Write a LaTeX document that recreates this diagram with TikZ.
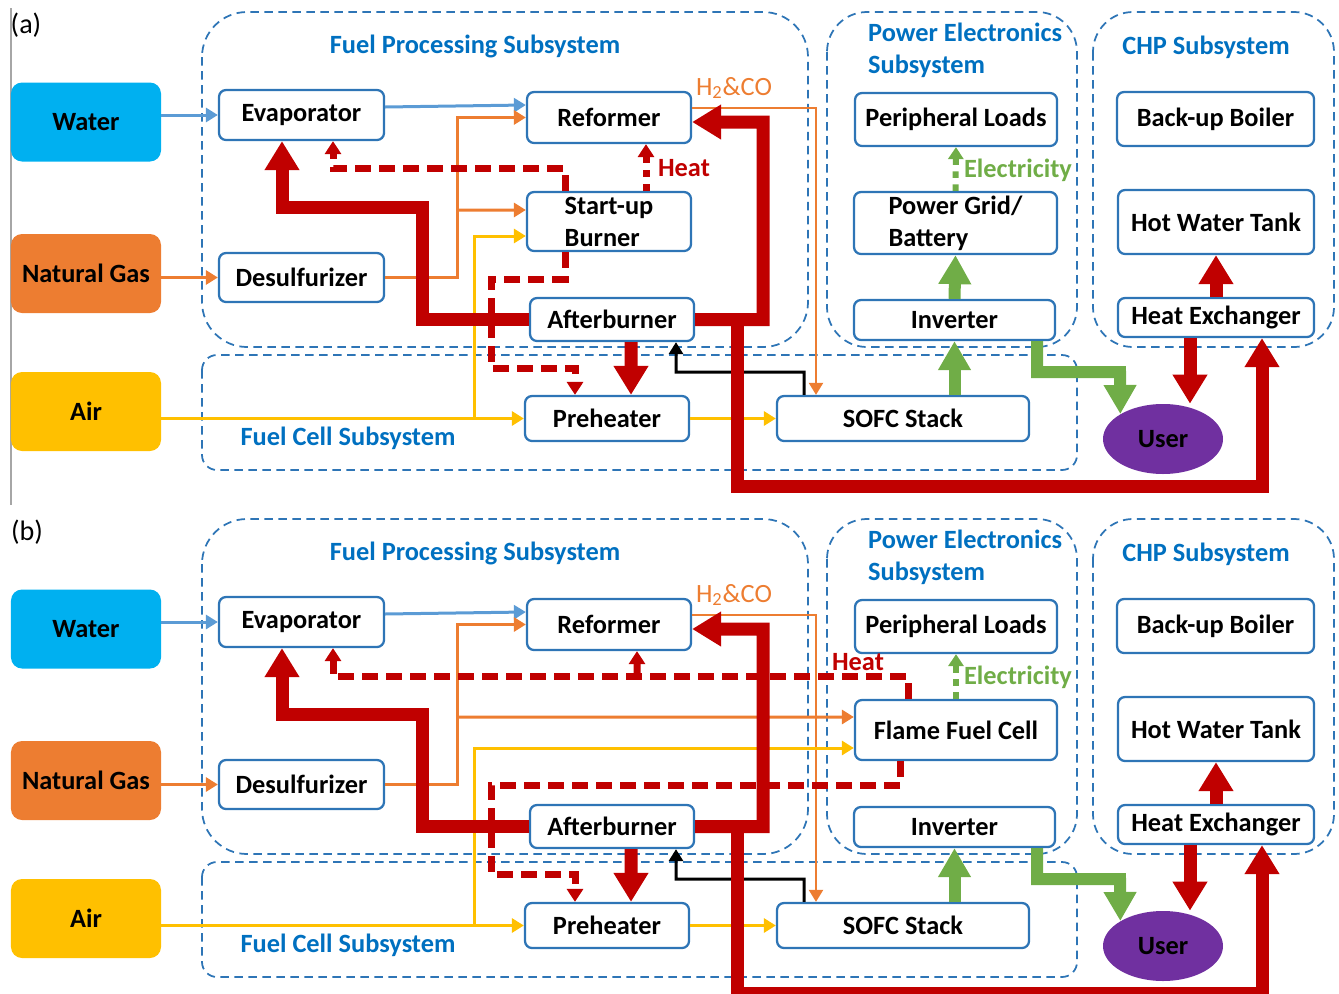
\documentclass[tikz,border=0pt]{standalone}
\usepackage{fontspec}
\setmainfont{Carlito}
\usetikzlibrary{arrows.meta,shapes.geometric}

\definecolor{boxblue}{RGB}{46,117,182}
\definecolor{titleblue}{RGB}{0,112,192}
\definecolor{waterblue}{RGB}{0,176,240}
\definecolor{lineblue}{RGB}{91,155,213}
\definecolor{gasorange}{RGB}{237,125,49}
\definecolor{airyellow}{RGB}{255,192,0}
\definecolor{heatred}{RGB}{192,0,0}
\definecolor{elgreen}{RGB}{112,173,71}
\definecolor{userpurple}{RGB}{112,48,160}

\tikzset{
  txt/.style={font=\fontsize{15}{18.2}\selectfont\bfseries},
  blk/.style={txt, draw=boxblue, line width=0.45mm, rounded corners=1.4mm,
    fill=white, inner sep=0pt, align=center},
  src/.style={txt, rounded corners=2.2mm, minimum width=30mm, minimum height=15.8mm},
  box/.style={draw=boxblue, line width=0.35mm, dash pattern=on 1.7mm off 1.1mm},
  title/.style={txt, text=titleblue},
  feed/.style={line width=0.6mm, -{Triangle[width=2.8mm,length=2.4mm]}},
  hot/.style={heatred, line width=2.6mm, -{Triangle[width=6.6mm,length=5.8mm]}},
  power/.style={elgreen, line width=2.4mm, -{Triangle[width=6.2mm,length=5.8mm]}},
  heatdash/.style={heatred, line width=1.4mm, dash pattern=on 3.2mm off 1.6mm,
    -{Triangle[width=3.2mm,length=2.6mm]}},
  heatdot/.style={heatred, line width=1.4mm, dash pattern=on 1.4mm off 1.4mm,
    -{Triangle[width=3.2mm,length=2.6mm]}},
  eldot/.style={elgreen, line width=1.2mm, dash pattern=on 1.3mm off 1.3mm,
    -{Triangle[width=3mm,length=2.4mm]}},
}

\begin{document}
\begin{tikzpicture}[x=0.2mm, y=-0.2mm] % one unit = one pixel, y downwards
    \useasboundingbox (0,0) rectangle (1339,994);

    % panel tags
    \draw [gray!70, line width=0.4mm] (11,8) -- (11,505);
    \node [font=\fontsize{16}{19}\selectfont] (taga) at (26,25) {(a)};
    \node [font=\fontsize{16}{19}\selectfont] (tagb) at (27,532) {(b)};

    % parts shared by both panels
    \foreach \p/\dy in {a/0,b/507}{
    \begin{scope}[shift={(0,\dy)}]
        % subsystems
        \draw [box, rounded corners=9mm] (202,12) rectangle (808,347);
        \draw [box, rounded corners=3mm] (202,355) rectangle (1077,470);
        \draw [box, rounded corners=8mm] (827,12) rectangle (1077,347);
        \draw [box, rounded corners=8mm] (1093,12) rectangle (1334,347);
        \node [title] (tfp\p) at (475,46) {Fuel Processing Subsystem};
        \node [title] (tfc\p) at (348,438) {Fuel Cell Subsystem};
        \node [title, align=left, anchor=west] (tpe\p) at (862,50) {Power Electronics\\Subsystem};
        \node [title] (tchp\p) at (1206,47) {CHP Subsystem};

        % inputs
        \node [src, fill=waterblue] (water\p) at (86,122) {Water};
        \node [src, fill=gasorange] (gas\p) at (86,273.5) {Natural Gas};
        \node [src, fill=airyellow] (air\p) at (86,411.5) {Air};

        % units
        \node [blk, minimum width=33mm, minimum height=10mm] (eva\p) at (301.5,115) {Evaporator};
        \node [blk, minimum width=32.8mm, minimum height=10.2mm] (ref\p) at (609,117.5) {Reformer};
        \node [blk, minimum width=33mm, minimum height=9.8mm] (des\p) at (301.5,277.5) {Desulfurizer};
        \node [blk, minimum width=32.8mm, minimum height=8.6mm] (aft\p) at (612,319.5) {Afterburner};
        \node [blk, minimum width=32.8mm, minimum height=9mm] (pre\p) at (607,418.5) {Preheater};
        \node [blk, minimum width=50.4mm, minimum height=9mm] (sofc\p) at (903,418.5) {SOFC Stack};
        \node [blk, minimum width=40.4mm, minimum height=10.6mm] (load\p) at (956,119.5) {Peripheral Loads};
        \node [blk, minimum width=40.2mm, minimum height=8mm] (inv\p) at (954.5,320) {Inverter};
        \node [blk, minimum width=39.4mm, minimum height=10.8mm] (boil\p) at (1215.5,119) {Back-up Boiler};
        \node [blk, minimum width=39.2mm, minimum height=12.8mm] (tank\p) at (1216,222) {Hot Water Tank};
        \node [blk, minimum width=39.2mm, minimum height=7.8mm] (hx\p) at (1216,317.5) {Heat Exchanger};
        \node [txt, ellipse, fill=userpurple, minimum width=24mm, minimum height=14mm,
               inner sep=0pt] (user\p) at (1163,439) {User};

        % feed lines
        \draw [feed, lineblue] (water\p.east |- eva\p.west) -- (eva\p.west);
        \draw [feed, lineblue] ([yshift=1.6mm]eva\p.east) -- ([yshift=2.5mm]ref\p.west);
        \draw [feed, gasorange] (gas\p.east |- des\p.west) -- (des\p.west);
        \draw [feed, gasorange] (des\p.east) -| (457,117.5) -- (ref\p.west);
        \draw [feed, gasorange, line width=0.45mm] ([yshift=1.9mm]ref\p.east) -| ([xshift=-17.4mm]sofc\p.north);
        \node [font=\fontsize{15}{18.2}\selectfont, text=gasorange] (syn\p) at (734,88) {H\textsubscript{2}\&CO};
        \draw [feed, airyellow] (air\p.east |- pre\p.west) -- (pre\p.west);
        \draw [feed, airyellow] (pre\p.east) -- (sofc\p.west);
        \draw [feed, black] ([xshift=-19.8mm]sofc\p.north) |- (676,372) -- ([xshift=12.8mm]aft\p.south);
    \end{scope}
    }

    % panel (a): start-up burner
    \node [blk, align=left, minimum width=32.8mm, minimum height=11.8mm] (suba) at (609,221.5) {Start-up\\Burner};
    \node [blk, align=left, minimum width=40.6mm, minimum height=12.4mm] (grida) at (955.5,223) {Power Grid/\\Battery};
    \draw [feed, gasorange] (457,210) -- ([yshift=2.3mm]suba.west);
    \draw [feed, airyellow] (474,418.5) |- ([yshift=-2.9mm]suba.west);
    \draw [heatdot] ([xshift=7.4mm]suba.north) -- ([xshift=7.4mm]refa.south);
    \node [txt, text=heatred] (heata) at (684,168) {Heat};
    \draw [heatdash] ([xshift=-8.8mm]suba.north) -- ++(0,-22) -| ([xshift=6.3mm]evaa.south);
    \draw [heatdash] ([xshift=-8.8mm]suba.south) -- ++(0,27) -| (491,368) -| ([xshift=-6.4mm]prea.north);
    \draw [power] (inva.north) -- (grida.south);
    \draw [eldot] (grida.north) -- (loada.south);
    \node [txt, text=elgreen] (eleca) at (1018,170) {Electricity};

    % panel (b): flame fuel cell
    \begin{scope}[shift={(0,507)}]
        \node [blk, minimum width=40.4mm, minimum height=12mm] (ffcb) at (956,223) {Flame Fuel Cell};
        \draw [feed, gasorange] (457,210) -- ([yshift=2.6mm]ffcb.west);
        \draw [feed, airyellow] (474,418.5) |- ([yshift=-3.6mm]ffcb.west);
        \draw [heatdash] ([xshift=-9.6mm]ffcb.north) -- ++(0,-22) -| ([xshift=6.3mm]evab.south);
        \draw [heatdash] (637,171) -- ([xshift=5.6mm]refb.south);
        \node [txt, text=heatred] (heatb) at (858,155) {Heat};
        \draw [heatdash] ([xshift=-11.2mm]ffcb.south) -- ++(0,24) -| (491,367) -| ([xshift=-6.4mm]preb.north);
        \draw [eldot] (ffcb.north) -- (loadb.south);
        \node [txt, text=elgreen] (elecb) at (1018,170) {Electricity};
    \end{scope}

    % heat and power flows (on top)
    \foreach \p/\dy in {a/0,b/507}{
    \begin{scope}[shift={(0,\dy)}]
        \draw [hot] (aft\p.west) -| (422,207) -| ([xshift=-3.9mm]eva\p.south);
        \draw [hot] (aft\p.east) -| (763,122) -- ([yshift=-0.9mm]ref\p.east);
        \draw [hot] ([xshift=3.8mm]aft\p.south) -- ([xshift=4.8mm]pre\p.north);
        \draw [hot] ([xshift=8.4mm]aft\p.east) -- ++(0,167) -| ([xshift=9.2mm]hx\p.south);
        \draw [hot] (hx\p.north) -- (tank\p.south);
        \draw [hot] ([xshift=-5.2mm]hx\p.south) -- ([xshift=-5.2mm]hx\p.south |- user\p.north);
        \draw [power] (inv\p.south |- sofc\p.north) -- (inv\p.south);
        \draw [power] ([xshift=16.5mm]inv\p.south) |- (1120,372) -- (user\p.north west);
    \end{scope}
    }
\end{tikzpicture}
\end{document}
